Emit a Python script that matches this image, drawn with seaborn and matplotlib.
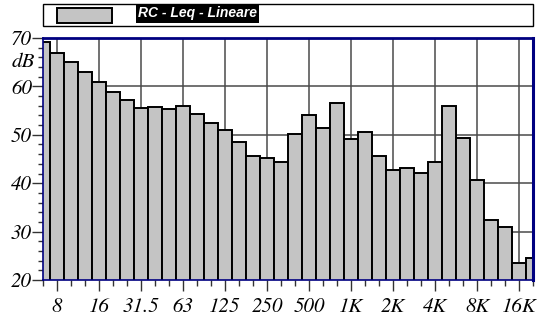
import numpy as np
import pandas as pd
import matplotlib
matplotlib.use("Agg")
import matplotlib.pyplot as plt
from matplotlib.patches import Rectangle
from matplotlib.transforms import blended_transform_factory
import seaborn as sns

# 1/3-octave band centres (Hz) and linear Leq levels (dB)
bands = ["6.3", "8", "10", "12.5", "16", "20", "25", "31.5", "40", "50",
         "63", "80", "100", "125", "160", "200", "250", "315", "400", "500",
         "630", "800", "1K", "1.25K", "1.6K", "2K", "2.5K", "3.15K", "4K", "5K",
         "6.3K", "8K", "10K", "12.5K", "16K", "20K"]
levels = [69.2, 67.0, 65.0, 63.0, 61.0, 58.9, 57.2, 55.6, 55.7, 55.3,
          56.0, 54.2, 52.4, 51.0, 48.5, 45.7, 45.3, 44.3, 50.2, 54.0,
          51.5, 56.5, 49.1, 50.5, 45.6, 42.7, 43.1, 42.2, 44.4, 56.0,
          49.4, 40.6, 32.5, 30.9, 23.6, 24.5]
octave_labels = ["8", "16", "31.5", "63", "125", "250", "500",
                 "1K", "2K", "4K", "8K", "16K"]
y_major = [20, 30, 40, 50, 60, 70]
series_name = "RC - Leq - Lineare"

df = pd.DataFrame({"band": bands, "level": levels})

sns.set_theme(style="white")
plt.rcParams["font.family"] = ["FreeSerif", "Liberation Serif", "DejaVu Serif"]
plt.rcParams["font.style"] = "italic"
plt.rcParams["text.color"] = "black"
plt.rcParams["xtick.color"] = "#333333"
plt.rcParams["ytick.color"] = "#333333"
plt.rcParams["xtick.labelcolor"] = "black"
plt.rcParams["ytick.labelcolor"] = "black"

W, H = 542, 320
fig = plt.figure(figsize=(W / 100, H / 100), dpi=100)
ax = fig.add_axes([43 / W, 1 - 280 / H, (533 - 43) / W, (280 - 38) / H])

bar_fill = "#c4c4c4"
sns.barplot(data=df, x="band", y="level", order=bands, color=bar_fill,
            saturation=1, width=1.0, edgecolor="black", linewidth=1.4,
            ax=ax, zorder=3)

ax.set_xlim(0, len(bands) - 1)
ax.set_ylim(20, 70)

label_size = 15
major_idx = [bands.index(b) for b in octave_labels]
ax.set_xticks(major_idx)
ax.set_xticklabels(octave_labels, fontsize=label_size, fontstyle="italic")
ax.set_xticks(range(len(bands)), minor=True)
ax.set_yticks(y_major)
ax.set_yticklabels([str(v) for v in y_major], fontsize=label_size,
                   fontstyle="italic")
ax.set_yticks(np.arange(20, 71, 2), minor=True)

navy = "#000080"
ax.tick_params(axis="x", which="major", direction="out", length=8, width=1,
               pad=5, bottom=True)
ax.tick_params(axis="x", which="minor", direction="out", length=4, width=1,
               bottom=True)
ax.tick_params(axis="y", which="major", direction="out", length=8, width=1,
               pad=0, left=True)
ax.tick_params(axis="y", which="minor", direction="out", length=3.5, width=1,
               left=True)

ax.set_xlabel("")
ax.set_ylabel("")

ax.grid(True, which="major", color="#4a4a4a", linewidth=1.1, zorder=1)
ax.set_axisbelow(True)

for side, lw in (("top", 2.0), ("right", 2.2), ("bottom", 1.2), ("left", 1.2)):
    ax.spines[side].set_visible(True)
    ax.spines[side].set_color(navy)
    ax.spines[side].set_linewidth(lw)
    ax.spines[side].set_zorder(5)

# unit label beside the y axis
tr = blended_transform_factory(fig.transFigure, ax.transData)
fig.text(34 / W, 65, "dB", transform=tr, ha="right", va="center",
         fontsize=label_size, fontstyle="italic")

# legend strip above the plot
fig.patches.append(Rectangle((43 / W, 1 - 26 / H), (533 - 43) / W, 22 / H,
                             transform=fig.transFigure, facecolor="white",
                             edgecolor="black", linewidth=1.0))
fig.patches.append(Rectangle((57 / W, 1 - 23 / H), 55 / W, 15 / H,
                             transform=fig.transFigure, facecolor=bar_fill,
                             edgecolor="black", linewidth=1.4))
fig.text(138 / W, 1 - 13.5 / H, series_name, ha="left", va="center",
         fontsize=10, fontweight="bold", fontstyle="italic",
         family=["Liberation Sans", "DejaVu Sans"], color="white",
         bbox=dict(facecolor="black", edgecolor="none", pad=1.5))

fig.savefig("out.png", dpi=100)
